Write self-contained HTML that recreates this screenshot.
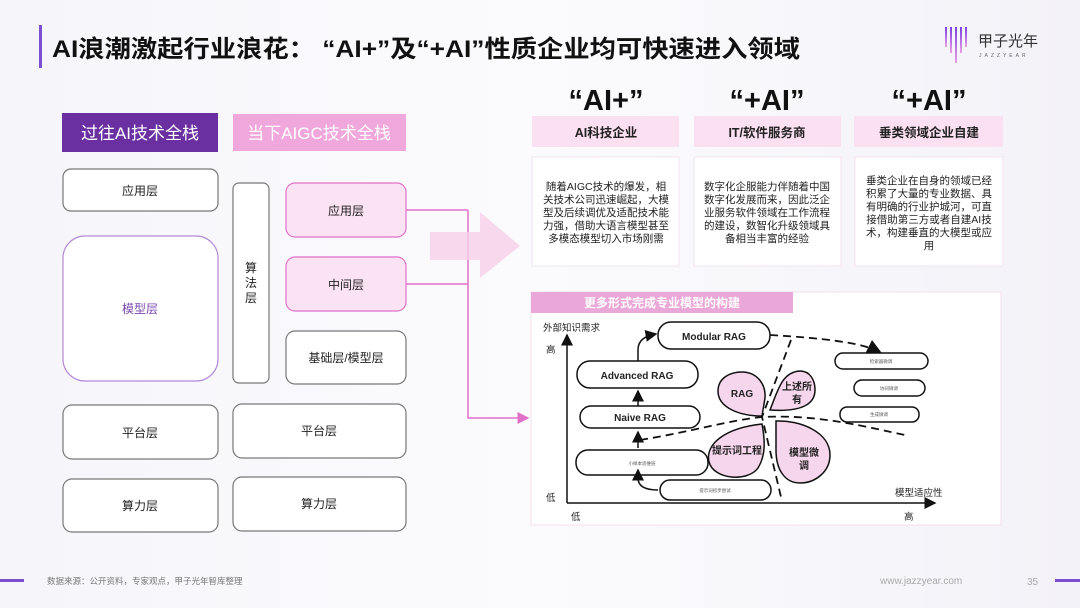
<!DOCTYPE html>
<html><head><meta charset="utf-8"><style>
body{margin:0;width:1080px;height:608px;overflow:hidden;background:linear-gradient(90deg,#f6f5fa,#fbfbfd 50%,#f3f2f8);font-family:"Liberation Sans","Noto Sans CJK SC",sans-serif;}
svg{position:absolute;left:0;top:0}
text{font-family:"Liberation Sans","Noto Sans CJK SC",sans-serif}
</style></head><body>
<svg width="1080" height="608" viewBox="0 0 1080 608">
<defs>
<marker id="ah" markerWidth="8" markerHeight="8" refX="7" refY="4" orient="auto"><path d="M0,0 L8,4 L0,8 Z" fill="#111"/></marker>
<marker id="ap" markerWidth="8" markerHeight="8" refX="7" refY="4" orient="auto"><path d="M0,0 L8,4 L0,8 Z" fill="#e070c8"/></marker>
<linearGradient id="lg" x1="0" y1="0" x2="0" y2="1"><stop offset="0" stop-color="#7a3fe0"/><stop offset="1" stop-color="#e9a0e6"/></linearGradient>
</defs>
<!-- title -->
<rect x="39" y="25" width="3" height="43" fill="#7b4fd0"/>
<text x="52" y="57" font-size="24" font-weight="bold" fill="#111" textLength="748" lengthAdjust="spacingAndGlyphs">AI浪潮激起行业浪花：  “AI+”及“+AI”性质企业均可快速进入领域</text>
<!-- logo -->
<g fill="url(#lg)"><rect x="945" y="27" width="2" height="20"/><rect x="950" y="27" width="2" height="26"/><rect x="955" y="27" width="2" height="36"/><rect x="960" y="27" width="2" height="26"/><rect x="965" y="27" width="2" height="20"/></g>
<text x="978" y="46" font-size="15" fill="#333">甲子光年</text>
<text x="979" y="57" font-size="5" fill="#666" letter-spacing="3">JAZZYEAR</text>

<!-- left headers -->
<rect x="62" y="113" width="156" height="39" fill="#6a2fa0"/>
<text x="140" y="139" font-size="17" fill="#fff" text-anchor="middle">过往AI技术全栈</text>
<rect x="233" y="114" width="173" height="37" fill="#f0a8dc"/>
<text x="319" y="139" font-size="17" fill="#fff" text-anchor="middle">当下AIGC技术全栈</text>

<g fill="#fff" stroke="#777" stroke-width="1.2" font-size="12">
<rect x="63" y="169" width="155" height="42" rx="8"/>
<rect x="63" y="236" width="155" height="145" rx="22" stroke="#b48ad6"/>
<rect x="63" y="405" width="155" height="54" rx="9"/>
<rect x="63" y="479" width="155" height="53" rx="9"/>
<rect x="233" y="183" width="36" height="200" rx="6"/>
<rect x="286" y="183" width="120" height="54" rx="9" fill="#fbe3f4" stroke="#e070c8"/>
<rect x="286" y="257" width="120" height="54" rx="9" fill="#fbe3f4" stroke="#e070c8"/>
<rect x="286" y="331" width="120" height="53" rx="9"/>
<rect x="233" y="404" width="173" height="54" rx="9"/>
<rect x="233" y="477" width="173" height="54" rx="9"/>
</g>
<g font-size="12" fill="#222" text-anchor="middle">
<text x="140" y="195">应用层</text>
<text x="140" y="313" fill="#7a48b0">模型层</text>
<text x="140" y="437">平台层</text>
<text x="140" y="510">算力层</text>
<text x="251" y="272">算</text><text x="251" y="287">法</text><text x="251" y="302">层</text>
<text x="346" y="215">应用层</text>
<text x="346" y="289">中间层</text>
<text x="346" y="362">基础层/模型层</text>
<text x="319" y="435">平台层</text>
<text x="319" y="508">算力层</text>
</g>
<path d="M406,210 H468 M406,284 H468 M468,210 V418 H528" fill="none" stroke="#e070c8" stroke-width="1.5" marker-end="url(#ap)"/>
<path d="M430,232 H480 V212 L520,246 L480,278 V260 H430 Z" fill="#f6cfe9" opacity="0.8"/>

<!-- right top -->
<g font-size="29" font-weight="bold" fill="#111" text-anchor="middle">
<text x="606" y="110">“AI+”</text><text x="767" y="110">“+AI”</text><text x="929" y="110">“+AI”</text>
</g>
<g fill="#fbe0f1"><rect x="532" y="116" width="147" height="31"/><rect x="694" y="116" width="147" height="31"/><rect x="854" y="116" width="149" height="31"/></g>
<g font-size="12.5" font-weight="bold" fill="#222" text-anchor="middle">
<text x="606" y="137">AI科技企业</text><text x="767" y="137">IT/软件服务商</text><text x="929" y="137">垂类领域企业自建</text>
</g>
<g fill="#fff" stroke="#f3e3ef"><rect x="532" y="157" width="147" height="109"/><rect x="694" y="157" width="147" height="109"/><rect x="855" y="157" width="148" height="109"/></g>
<g font-size="10.5" fill="#222" text-anchor="middle">
<text x="606" y="190">随着AIGC技术的爆发，相</text><text x="606" y="203">关技术公司迅速崛起，大模</text><text x="606" y="216">型及后续调优及适配技术能</text><text x="606" y="229">力强，借助大语言模型甚至</text><text x="606" y="242">多模态模型切入市场刚需</text>
<text x="767" y="190">数字化企服能力伴随着中国</text><text x="767" y="203">数字化发展而来，因此泛企</text><text x="767" y="216">业服务软件领域在工作流程</text><text x="767" y="229">的建设，数智化升级领域具</text><text x="767" y="242">备相当丰富的经验</text>
<text x="929" y="184">垂类企业在自身的领域已经</text><text x="929" y="197">积累了大量的专业数据、具</text><text x="929" y="210">有明确的行业护城河，可直</text><text x="929" y="223">接借助第三方或者自建AI技</text><text x="929" y="236">术，构建垂直的大模型或应</text><text x="929" y="249">用</text>
</g>

<!-- chart -->
<rect x="531" y="292" width="470" height="233" fill="#fff" stroke="#f3e0ee"/>
<rect x="531" y="292" width="262" height="21" fill="#eaa8d8"/>
<text x="662" y="307" font-size="12" font-weight="bold" fill="#fff" text-anchor="middle">更多形式完成专业模型的构建</text>
<line x1="567" y1="503" x2="567" y2="335" stroke="#111" stroke-width="1.5" marker-end="url(#ah)"/>
<line x1="567" y1="503" x2="935" y2="503" stroke="#111" stroke-width="1.5" marker-end="url(#ah)"/>
<g font-size="9.5" fill="#222">
<text x="543" y="331">外部知识需求</text><text x="546" y="353">高</text><text x="546" y="501">低</text><text x="571" y="520">低</text><text x="904" y="520">高</text><text x="895" y="496">模型适应性</text>
</g>
<g fill="#fff" stroke="#111" stroke-width="1.5">
<rect x="658" y="322" width="112" height="27" rx="13"/>
<rect x="577" y="361" width="121" height="27" rx="13"/>
<rect x="580" y="406" width="120" height="22" rx="11"/>
<rect x="576" y="450" width="132" height="25" rx="12"/>
<rect x="660" y="480" width="111" height="20" rx="10"/>
<rect x="835" y="353" width="93" height="16" rx="8"/>
<rect x="854" y="380" width="71" height="16" rx="8"/>
<rect x="840" y="407" width="79" height="15" rx="7"/>
</g>
<g font-size="10" font-weight="bold" fill="#222" text-anchor="middle">
<text x="714" y="340">Modular RAG</text><text x="637" y="379">Advanced RAG</text><text x="640" y="421">Naive RAG</text>
</g>
<g font-size="4.5" fill="#555" text-anchor="middle">
<text x="642" y="465">小样本思维链</text><text x="715" y="492">提示词初步尝试</text><text x="881" y="363">检索器微调</text><text x="889" y="390">协同微调</text><text x="879" y="416">生成微调</text>
</g>
<g fill="none" stroke="#111" stroke-width="1.5" marker-end="url(#ah)">
<path d="M638,361 V350 C638,340 645,336 656,334"/>
<line x1="638" y1="406" x2="638" y2="391"/>
<path d="M658,490 C645,490 638,486 638,478 L638,470" />
</g>
<path d="M638,448 V432" fill="none" stroke="#111" stroke-width="1.5" marker-end="url(#ah)"/>
<g fill="none" stroke="#111" stroke-width="1.8" stroke-dasharray="8,5">
<path d="M770,335 C820,338 860,342 880,352" marker-end="url(#ah)"/>
<path d="M640,440 C690,432 730,420 762,417 C820,414 870,428 905,435"/>
<path d="M791,340 L762,417 L781,497"/>
</g>
<g fill="#f5d6ec" stroke="#111" stroke-width="1.5">
<path d="M762,416 C740,416 718,408 718,391 C718,378 730,372 742,372 C756,372 766,383 765,398 Z"/>
<path d="M770,410 C778,390 782,372 800,371 C810,371 815,380 815,390 C815,405 800,412 770,410 Z"/>
<path d="M762,424 C765,440 766,455 758,468 C748,482 714,480 709,462 C705,444 725,428 762,424 Z"/>
<path d="M776,421 C800,420 830,432 830,455 C830,472 815,483 800,483 C785,483 776,470 776,450 Z"/>
</g>
<g font-size="10" font-weight="bold" fill="#222" text-anchor="middle">
<text x="742" y="397">RAG</text><text x="797" y="390">上述所</text><text x="797" y="403">有</text>
<text x="737" y="454">提示词工程</text><text x="804" y="456">模型微</text><text x="804" y="469">调</text>
</g>

<!-- footer -->
<rect x="0" y="579" width="24" height="3" fill="#7b4fd0"/>
<rect x="1055" y="579" width="25" height="3" fill="#7b4fd0"/>
<text x="47" y="584" font-size="8.5" fill="#777">数据来源：公开资料，专家观点，甲子光年智库整理</text>
<text x="880" y="584" font-size="10" fill="#aaa">www.jazzyear.com</text>
<text x="1027" y="585" font-size="10" fill="#aaa">35</text>
</svg>
</body></html>
